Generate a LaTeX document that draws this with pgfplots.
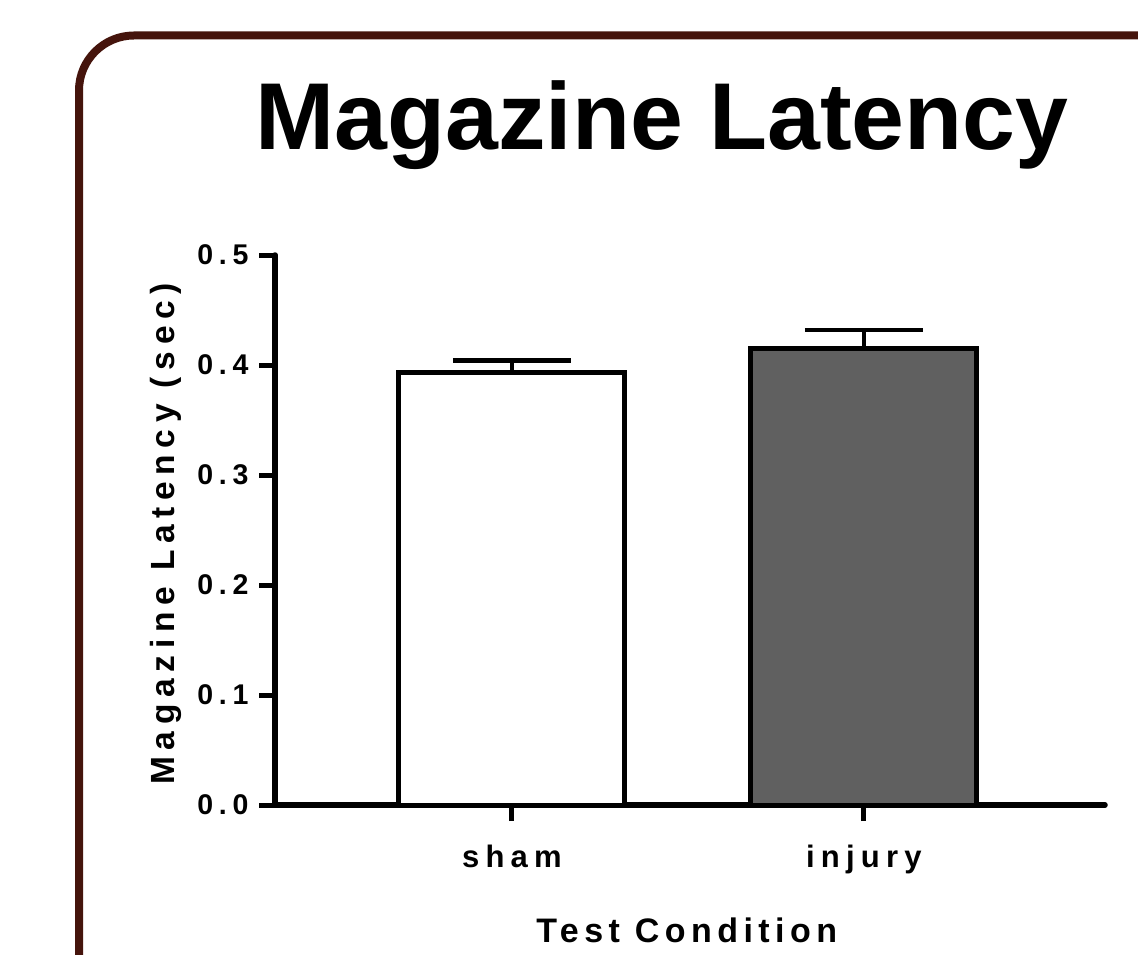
\documentclass[border=0pt]{standalone}
\usepackage{pgfplots}
\pgfplotsset{compat=1.18}
\usepackage{fontspec}
\setmainfont{Liberation Sans}
\newfontfamily\lsf[LetterSpace=20]{Liberation Sans}
\newfontfamily\lsfx[LetterSpace=16]{Liberation Sans}
\definecolor{framebrown}{HTML}{45140C}
\definecolor{bargray}{HTML}{606060}
\begin{document}
\begin{tikzpicture}
\useasboundingbox (0pt,0pt) rectangle (1138pt,954pt);
\clip (0pt,0pt) rectangle (1138pt,954pt);
\fill[white] (0pt,0pt) rectangle (1138pt,954pt);
\draw[framebrown, line width=8pt, rounded corners=55pt] (79pt,-100pt) -- (79pt,918.5pt) -- (1300pt,918.5pt);
\node[anchor=base, inner sep=0pt, font=\bfseries\fontsize{95}{95}\selectfont] at (662pt,804pt) {Magazine Latency};
\begin{axis}[
  at={(275pt,149pt)}, anchor=south west,
  scale only axis, width=830pt, height=550pt,
  xmin=-0.673, xmax=1.685, ymin=0, ymax=0.5,
  axis x line*=bottom, axis y line*=left,
  axis line style={line width=5.5pt, black, line cap=round},
  xtick={0,1}, xticklabels={sham,injury},
  ytick={0,0.1,0.2,0.3,0.4,0.5},
  tick align=outside, major tick length=16pt,
  tick style={line width=5pt, black},
  yticklabel style={font=\lsf\bfseries\fontsize{28.5}{28.5}\selectfont, xshift=-7pt,
    /pgf/number format/fixed, /pgf/number format/fixed zerofill,
    /pgf/number format/precision=1, /pgf/number format/assume math mode=true},
  xticklabel style={font=\lsf\bfseries\fontsize{31}{31}\selectfont, yshift=-20pt},
  xlabel={Test Condition},
  xlabel style={at={(axis description cs:0.496,0)}, anchor=base, yshift=-137pt,
    font=\lsfx\bfseries\fontsize{34}{34}\selectfont},
  ylabel={Magazine Latency (sec)},
  ylabel style={at={(axis description cs:-0.1205,0.493)}, anchor=base,
    font=\lsf\bfseries\fontsize{33.5}{33.5}\selectfont},
  clip=false,
]
\addplot[ybar, bar width=226pt, bar shift=0pt, fill=white, draw=black, line width=4.8pt]
  coordinates {(0,0.393)};
\addplot[ybar, bar width=226pt, bar shift=0pt, fill=bargray, draw=black, line width=4.8pt]
  coordinates {(1,0.415)};
% error bars (stem + cap)
\addplot[black, line width=4.5pt, mark=none] coordinates {(0,0.393) (0,0.404)};
\addplot[black, line width=4.5pt, mark=none] coordinates {(-0.168,0.404) (0.168,0.404)};
\addplot[black, line width=4.5pt, mark=none] coordinates {(1,0.415) (1,0.432)};
\addplot[black, line width=4.5pt, mark=none] coordinates {(0.832,0.432) (1.168,0.432)};
\end{axis}
\end{tikzpicture}
\end{document}
